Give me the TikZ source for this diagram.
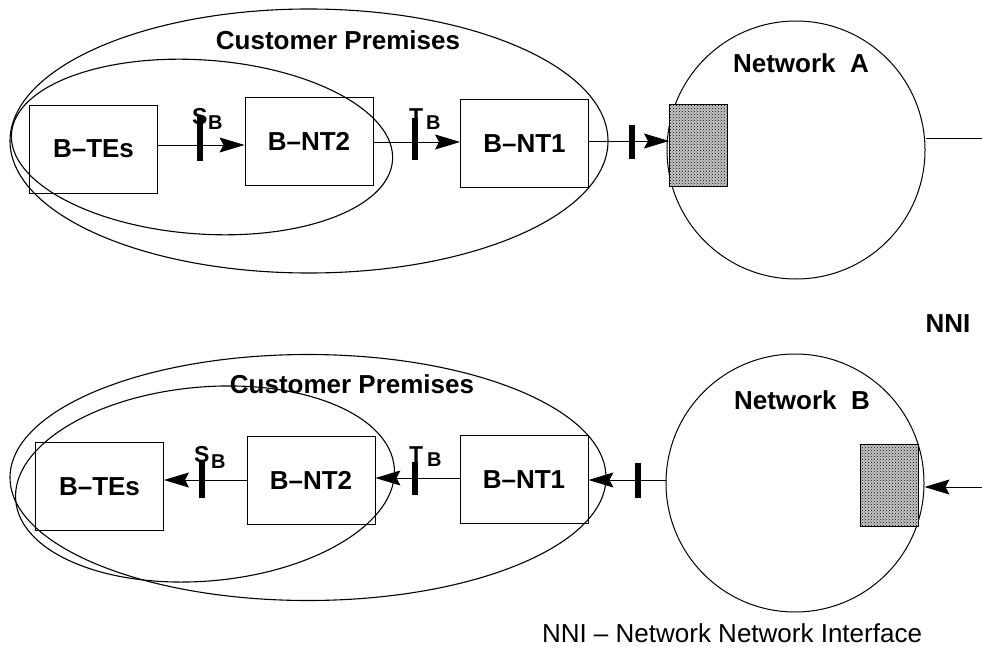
\documentclass[tikz,border=0pt]{standalone}
\usepackage{fontspec}
\setmainfont{Liberation Sans}
\usetikzlibrary{arrows.meta,patterns}
\begin{document}
\begin{tikzpicture}[x=1pt,y=-1pt,
  lbl/.style={font=\bfseries\fontsize{26}{30}\selectfont},
  box/.style={draw, line width=0.9pt, minimum width=128pt, minimum height=88pt, inner sep=0pt, lbl},
  net/.style={draw, circle, line width=1pt, minimum size=258pt, inner sep=0pt},
  shbox/.style={draw, line width=1pt, minimum width=58pt, minimum height=82pt, inner sep=0pt, fill=gray!45, postaction={pattern=crosshatch dots}},
  conn/.style={line width=0.8pt},
  arr/.style={conn, -{Stealth[length=25pt,width=15pt,inset=4pt]}},
  ifbar/.style={line width=6.5pt},
  prem/.style={line width=1.1pt},
  mainletter/.style={font=\bfseries\fontsize{23}{26}\selectfont, inner sep=0pt, anchor=base west},
  sublet/.style={font=\bfseries\fontsize{20}{24}\selectfont, inner sep=0pt, anchor=base west}
]
\useasboundingbox (0,0) rectangle (982,647);
\fill[white] (0,0) rectangle (982,647);

% ---------- top: customer premises A ----------
\draw[prem] (309,141) ellipse [x radius=299pt, y radius=132pt];
\draw[prem, rotate around={-4:(202,147)}] (202,147) ellipse [x radius=191pt, y radius=87pt];
\node[lbl, anchor=base] (cpA) at (338,50) {Customer Premises};

\node[box] (tes1) at (93.5,149) {B–TEs};
\node[box] (nt21) at (309,141.5) {B–NT2};
\node[box] (nt11) at (524.5,143.5) {B–NT1};
\node[net] (netA) at (796,150) {};
\node[shbox] (shA) at (698.5,146) {};
\node[lbl, anchor=base] (labA) at (801,73) {Network\ \ A};

\coordinate (r1) at (0,145);
\coordinate (r2) at (0,142);
\coordinate (r3) at (0,141);
\coordinate (r4) at (0,138);
\coordinate (outA) at (982,138);
\draw[arr] (tes1.east |- r1) -- (nt21.west |- r1);
\draw[arr] (nt21.east |- r2) -- (nt11.west |- r2);
\draw[arr] (nt11.east |- r3) -- (shA.west |- r3);
\draw[conn] (netA.east |- r4) -- (outA);

\draw[ifbar] (200,116) -- (200,161);
\draw[ifbar] (415,118) -- (415,160);
\draw[ifbar] (632,125) -- (632,159);
\node[mainletter] (s1) at (192,125) {S};
\node[sublet] (s1b) at (208,130) {B};
\node[mainletter] (t1) at (409,125) {T};
\node[sublet] (t1b) at (426,130) {B};

\node[lbl, anchor=base] (nni) at (948,332) {NNI};

% ---------- bottom: customer premises B ----------
\draw[prem] (308,477.5) ellipse [x radius=298pt, y radius=123pt];
\draw[prem, rotate around={5:(205,484)}] (205,484) ellipse [x radius=190pt, y radius=97pt];
\node[lbl, anchor=base] (cpB) at (352,393) {Customer Premises};

\node[box] (tes2) at (99.5,486.5) {B–TEs};
\node[box] (nt22) at (311,480) {B–NT2};
\node[box] (nt12) at (524,479.5) {B–NT1};
\node[net] (netB) at (795,483) {};
\node[shbox] (shB) at (889,485.5) {};
\node[lbl, anchor=base] (labB) at (802,409) {Network\ \ B};

\coordinate (r5) at (0,480);
\coordinate (r6) at (0,478);
\coordinate (r7) at (0,480);
\coordinate (r8) at (0,487);
\coordinate (inB) at (982,487);
\draw[arr] (nt22.west |- r5) -- (tes2.east |- r5);
\draw[arr] (nt12.west |- r6) -- (nt22.east |- r6);
\draw[arr] (netB.west |- r7) -- (nt12.east |- r7);
\draw[arr] (inB) -- (netB.east |- r8);

\draw[ifbar] (202,462) -- (202,498);
\draw[ifbar] (415,462) -- (415,495);
\draw[ifbar] (638,463) -- (638,498);
\node[mainletter] (s2) at (194,462) {S};
\node[sublet] (s2b) at (211,468) {B};
\node[mainletter] (t2) at (409,462) {T};
\node[sublet] (t2b) at (427,466) {B};

\node[font=\fontsize{26}{30}\selectfont, anchor=base] (cap) at (732,642) {NNI – Network Network Interface};
\end{tikzpicture}
\end{document}
